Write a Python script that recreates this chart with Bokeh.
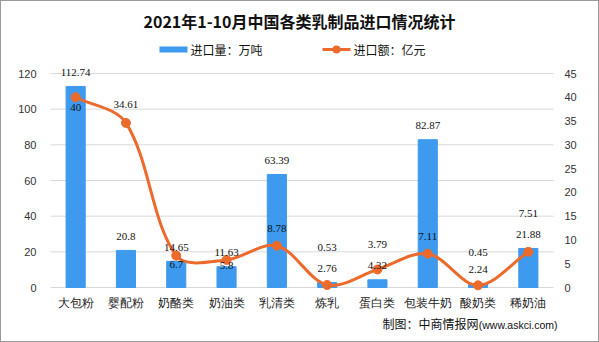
from math import hypot

from bokeh.plotting import figure
from bokeh.models import (Range1d, FactorRange, LinearAxis, LabelSet, ColumnDataSource,
                          Label, BoxAnnotation, FixedTicker, InlineStyleSheet)
from bokeh.embed import file_html
from bokeh.resources import INLINE

# 2021年1-10月 各类乳制品进口
categories = ["大包粉", "婴配粉", "奶酪类", "奶油类", "乳清类",
              "炼乳", "蛋白类", "包装牛奶", "酸奶类", "稀奶油"]
volume = [112.74, 20.8, 14.65, 11.63, 63.39, 2.76, 4.32, 82.87, 2.24, 21.88]   # 进口量（万吨）
amount = [40, 34.61, 6.7, 5.8, 8.78, 0.53, 3.79, 7.11, 0.45, 7.51]             # 进口额（亿元）
left_ticks = [0, 20, 40, 60, 80, 100, 120]
right_ticks = [0, 5, 10, 15, 20, 25, 30, 35, 40, 45]

BLUE = "#3D9AEE"
ORANGE = "#EC6B2C"
GRID = "#D9D9D9"
CJK = "Noto Sans CJK SC"

W, H = 599, 342
FL, FR = 45, 558                # plot frame, left / right edge
PLOT_TOP, PLOT_BASE = 73, 287   # pixel rows of the axis maxima and of zero
span = PLOT_BASE - PLOT_TOP


def stretch(top_value):
    """Axis range whose [0, top_value] part occupies rows PLOT_TOP..PLOT_BASE."""
    k = top_value / span
    return Range1d(-(H - PLOT_BASE) * k, top_value + PLOT_TOP * k)


n = len(categories)
cat_w = (FR - FL - 10) / n
x_range = FactorRange(*categories, range_padding=5 / cat_w, range_padding_units="absolute")

p = figure(width=W, height=H, x_range=x_range, y_range=stretch(left_ticks[-1]),
           output_backend="svg", toolbar_location=None,
           min_border_left=FL, min_border_right=W - FR,
           min_border_top=0, min_border_bottom=0)
p.outline_line_color = None
p.background_fill_color = "white"
p.border_fill_color = "white"
p.xaxis.visible = False
p.xgrid.grid_line_color = None
p.ygrid.grid_line_color = None

# thin grey frame round the whole picture
p.styles = {"outline": "1px solid #9a9a9a", "outline-offset": "-1px"}
p.stylesheets = [InlineStyleSheet(css=(
    ":host::after { content: ''; position: absolute; left: 0; top: 0; "
    "width: 599px; height: 342px; box-sizing: border-box; "
    "border: 1px solid #9a9a9a; pointer-events: none; z-index: 100; }"))]

p.extra_y_ranges = {"amt": stretch(right_ticks[-1])}


def style_axis(a, standoff):
    a.axis_line_color = None
    a.major_tick_line_color = None
    a.minor_tick_line_color = None
    a.major_label_standoff = standoff
    a.major_label_text_font = "Liberation Sans"
    a.major_label_text_font_size = "11px"
    a.major_label_text_color = "#333333"


ax = p.yaxis[0]
ax.ticker = FixedTicker(ticks=left_ticks)
style_axis(ax, 3)

rax = LinearAxis(y_range_name="amt", ticker=FixedTicker(ticks=right_ticks))
style_axis(rax, 0)
p.add_layout(rax, "right")

# horizontal grid lines across the category span
p.segment(x0=[0] * len(left_ticks), x1=[n] * len(left_ticks), y0=left_ticks, y1=left_ticks,
          line_color=GRID, line_width=1)

# bars
bars = ColumnDataSource(dict(x=categories, top=volume,
                             label=[f"{v:g}" for v in volume]))
p.vbar(x="x", top="top", width=0.38, source=bars, color=BLUE)

# smoothed line through the amount points: cubic Bezier segments whose handles
# follow the neighbour direction and scale with each segment's on-screen length
px_x = cat_w                      # pixels per category
px_y = span / right_ticks[-1]     # pixels per 亿元
pts = [(i + 0.5, v) for i, v in enumerate(amount)]


def dist(a, b):
    return hypot((b[0] - a[0]) * px_x, (b[1] - a[1]) * px_y)


seg = dict(x0=[], y0=[], x1=[], y1=[], cx0=[], cy0=[], cx1=[], cy1=[])
for i in range(n - 1):
    p0 = pts[i - 1] if i > 0 else pts[i]
    p1, p2 = pts[i], pts[i + 1]
    p3 = pts[i + 2] if i + 2 < n else pts[i + 1]
    d12 = dist(p1, p2)
    f1 = d12 / (dist(p0, p1) + d12) / 3
    f2 = d12 / (dist(p2, p3) + d12) / 3
    seg["x0"].append(p1[0]); seg["y0"].append(p1[1])
    seg["x1"].append(p2[0]); seg["y1"].append(p2[1])
    seg["cx0"].append(p1[0] + (p2[0] - p0[0]) * f1)
    seg["cy0"].append(p1[1] + (p2[1] - p0[1]) * f1)
    seg["cx1"].append(p2[0] - (p3[0] - p1[0]) * f2)
    seg["cy1"].append(p2[1] - (p3[1] - p1[1]) * f2)
p.bezier(source=ColumnDataSource(seg), x0="x0", y0="y0", x1="x1", y1="y1",
         cx0="cx0", cy0="cy0", cx1="cx1", cy1="cy1",
         line_color=ORANGE, line_width=3, y_range_name="amt")

line_src = ColumnDataSource(dict(x=categories, y=amount,
                                 label=[f"{v:g}" for v in amount],
                                 dy=[-10, 18, -9, -6, 17, 37, 25, 17, 33, 38]))
p.scatter(x="x", y="y", source=line_src, size=9, color=ORANGE, y_range_name="amt")

# value labels
num_font = dict(text_align="center", text_baseline="middle",
                text_font="Liberation Mono", text_font_size="11px", text_color="#111111")
p.add_layout(LabelSet(x="x", y="top", text="label", source=bars, y_offset=14, **num_font))
p.add_layout(LabelSet(x="x", y="y", text="label", source=line_src, y_offset="dy",
                      y_range_name="amt", **num_font))

# category names under the zero line
cat_src = ColumnDataSource(dict(x=categories, name=categories))
p.add_layout(LabelSet(x="x", y=0, text="name", source=cat_src, y_offset=-15,
                      text_align="center", text_baseline="middle",
                      text_font=CJK, text_font_size="12px", text_color="#222222"))


# title, legend and source note (screen units are measured from the frame's bottom-left)
def sx(px):
    return px - FL


def sy(py):
    return H - py


def box(l, t, r, b, color, radius=0):
    p.add_layout(BoxAnnotation(left=sx(l), right=sx(r), top=sy(t), bottom=sy(b),
                               left_units="screen", right_units="screen",
                               top_units="screen", bottom_units="screen",
                               fill_color=color, fill_alpha=1, line_color=None,
                               border_radius=radius))


def text(px, py, s, size, align="left", bold=False, font=CJK, color="#111111"):
    p.add_layout(Label(x=sx(px), y=sy(py), x_units="screen", y_units="screen", text=s,
                       text_align=align, text_baseline="middle", text_font=font,
                       text_font_size=size, text_font_style="bold" if bold else "normal",
                       text_color=color))


text(299, 20, "2021年1-10月中国各类乳制品进口情况统计", "16px", align="center", bold=True)

box(159, 46, 187, 52, BLUE)
text(190, 49, "进口量：万吨", "12px")
box(322, 47.5, 350, 50.5, ORANGE)
box(332, 45, 340, 53, ORANGE, radius=4)
text(353, 49, "进口额：亿元", "12px")

text(478, 323, "制图：中商情报网", "12px", align="right")
text(557, 324, "(www.askci.com)", "10.5px", align="right", font="Liberation Sans")

open("out.html", "w").write(file_html(p, INLINE))
